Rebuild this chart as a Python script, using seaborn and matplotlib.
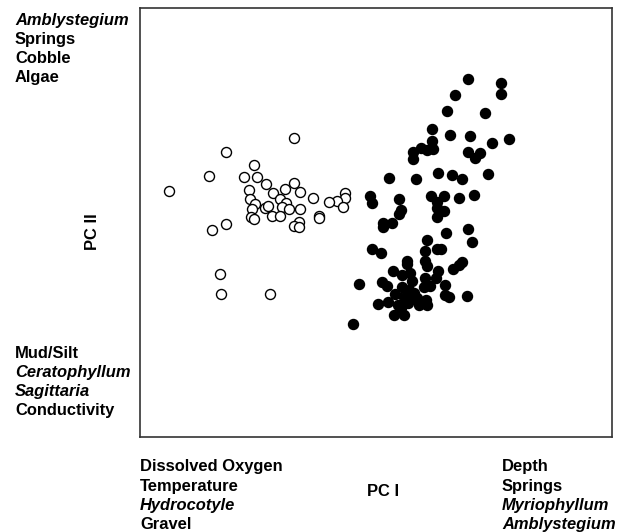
import pandas as pd
import matplotlib
matplotlib.use("Agg")
import matplotlib.pyplot as plt
import seaborn as sns

# PCA scores (arbitrary units)
open_x = [15.4, 8.6, 11.4, 6.9, 10.4, 11.7, 2.9, 12.6, 15.4, 10.9, 14.5, 16.0, 13.3, 11.0, 14.0,
          17.3, 11.5, 14.6, 20.5, 20.5, 19.7, 18.9, 20.3, 11.2, 12.5, 12.8, 14.2, 14.9, 16.0,
          11.1, 11.4, 13.2, 14.0, 17.9, 17.9, 15.9, 15.4, 15.9, 8.6, 7.2, 8.0, 8.1, 13.0]
open_y = [29.9, 28.5, 27.2, 26.1, 26.0, 26.0, 24.6, 25.3, 25.4, 24.7, 24.8, 24.5, 24.4, 23.8, 23.8,
          23.9, 23.3, 23.4, 24.4, 23.9, 23.6, 23.5, 23.0, 22.8, 22.9, 23.1, 23.0, 22.8, 22.8,
          22.0, 21.8, 22.1, 22.1, 22.1, 21.9, 21.5, 21.1, 21.0, 21.3, 20.7, 16.3, 14.3, 14.3]

filled_x = [32.8, 36.1, 36.1, 31.5, 30.7, 34.5, 29.2, 31.0, 33.0, 36.9, 35.2, 29.2, 28.1, 28.7,
            29.3, 27.3, 27.3, 32.8, 34.0, 33.5, 24.9, 27.6, 29.8, 31.2, 32.2, 34.8, 23.0, 25.9,
            29.1, 30.4, 31.9, 33.4, 23.2, 29.7, 29.7, 30.4, 29.7, 26.1, 25.9, 24.3, 24.3, 25.2,
            30.6, 32.8, 33.2, 28.7, 23.2, 24.1, 28.5, 29.7, 30.1, 26.7, 26.7, 28.5, 28.7, 32.2,
            31.9, 31.3, 25.3, 26.2, 27.0, 29.8, 29.6, 28.5, 21.9, 24.2, 24.7, 27.2, 26.2, 28.4,
            29.0, 30.5, 25.5, 26.9, 27.4, 26.4, 27.7, 28.6, 30.5, 30.9, 32.7, 23.8, 24.8, 25.8,
            26.8, 27.9, 28.7, 26.1, 27.1, 25.4, 26.4, 21.3]
filled_y = [35.8, 35.4, 34.3, 34.2, 32.6, 32.4, 30.8, 30.2, 30.1, 29.8, 29.4, 29.6, 28.9, 28.7,
            28.8, 28.5, 27.8, 28.5, 28.4, 27.9, 25.9, 25.8, 26.4, 26.2, 25.8, 26.3, 24.1, 23.8,
            24.1, 24.1, 23.9, 24.2, 23.4, 23.5, 22.9, 22.6, 22.0, 22.7, 22.3, 21.4, 21.0, 21.4,
            20.4, 20.8, 19.5, 19.7, 18.8, 18.4, 18.6, 18.8, 18.8, 17.6, 17.3, 17.6, 17.1, 17.5,
            17.2, 16.8, 16.6, 16.2, 16.4, 16.6, 15.9, 15.9, 15.3, 15.5, 15.1, 15.6, 15.0, 15.0,
            15.1, 15.2, 14.3, 14.7, 14.4, 14.0, 13.9, 13.7, 14.2, 14.0, 14.1, 13.3, 13.5, 13.2,
            13.4, 13.2, 13.2, 12.9, 13.8, 12.2, 12.2, 11.3]

df = pd.concat([
    pd.DataFrame({"pc1": open_x, "pc2": open_y, "group": "open"}),
    pd.DataFrame({"pc1": filled_x, "pc2": filled_y, "group": "filled"}),
])

sns.set_style("white")
plt.rcParams["font.family"] = ["Liberation Sans", "DejaVu Sans"]

fig = plt.figure(figsize=(6.25, 5.32), dpi=100)
ax = fig.add_axes([0.224, 0.1786, 0.755, 0.806])

sns.scatterplot(data=df[df.group == "open"], x="pc1", y="pc2", ax=ax, s=52,
                color="white", edgecolor="black", linewidth=1.0, legend=False)
sns.scatterplot(data=df[df.group == "filled"], x="pc1", y="pc2", ax=ax, s=52,
                color="black", edgecolor="black", linewidth=1.0, legend=False)

ax.set_xlim(0, 47.2)
ax.set_ylim(0, 42.9)
ax.set_xticks([])
ax.set_yticks([])
ax.set_xlabel("")
ax.set_ylabel("")
for sp in ax.spines.values():
    sp.set_color("#333333")
    sp.set_linewidth(1.2)

fs = 11.9


def label_block(x, y0, lines, ha="left"):
    # lines: list of (text, italic); y0 is pixels from the top
    for i, (t, it) in enumerate(lines):
        y = y0 + i * 19.3
        fig.text(x / 625, 1 - y / 532, t, ha=ha, va="center", fontsize=fs, color="black",
                 fontweight="bold", fontstyle="italic" if it else "normal")


label_block(15, 20, [("Amblystegium", True), ("Springs", False), ("Cobble", False), ("Algae", False)])
label_block(15, 353, [("Mud/Silt", False), ("Ceratophyllum", True), ("Sagittaria", True), ("Conductivity", False)])
label_block(140, 467, [("Dissolved Oxygen", False), ("Temperature", False), ("Hydrocotyle", True), ("Gravel", False)])
label_block(502, 467, [("Depth", False), ("Springs", False), ("Myriophyllum", True), ("Amblystegium", True)])

fig.text(383 / 625, 1 - 491 / 532, "PC I", ha="center", va="center", fontsize=fs,
         fontweight="bold", color="black")
fig.text(93 / 625, 1 - 232 / 532, "PC II", ha="center", va="center", fontsize=fs,
         fontweight="bold", rotation=90, color="black")

fig.savefig("out.png", dpi=100)
